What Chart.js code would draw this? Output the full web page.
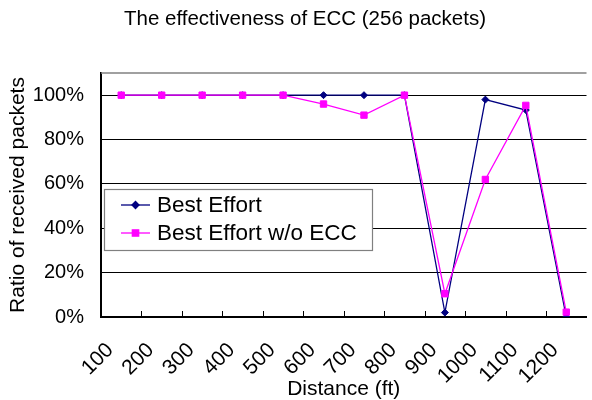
<!DOCTYPE html>
<html>
<head>
<meta charset="utf-8">
<script src="https://cdn.jsdelivr.net/npm/chart.js@4/dist/chart.umd.min.js"></script>
<style>
  html, body { margin: 0; padding: 0; background: #ffffff; }
  #wrap { position: relative; width: 592px; height: 400px; }
</style>
</head>
<body>
<div id="wrap"><canvas id="c" width="592" height="400"></canvas></div>
<script>
// Distances in feet (x categories)
const distances = ['100', '200', '300', '400', '500', '600', '700', '800', '900', '1000', '1100', '1200'];
// Percentage of the 256 packets received
const bestEffort      = [100, 100, 100, 100, 100, 100, 100, 100, 2, 98, 93.3, 0];
const bestEffortNoEcc = [100, 100, 100, 100, 100, 96, 91, 100, 10.5, 62, 95.4, 2.2];
// Labelled y ticks (percent)
const yTicks = [0, 20, 40, 60, 80, 100];

const seriesNames = ['Best Effort', 'Best Effort w/o ECC'];
const chartTitle = 'The effectiveness of ECC (256 packets)';
const xTitle = 'Distance (ft)';
const yTitle = 'Ratio of received packets';

const FONT = "'Liberation Sans', Arial, sans-serif";
const NAVY = '#000080';
const MAGENTA = '#ff00ff';

// Plot frame: grey top border and inward tick marks between categories
const framePlugin = {
  id: 'frame',
  beforeDatasetsDraw(chart) {
    const { ctx, chartArea: a, scales: { x } } = chart;
    ctx.save();
    ctx.strokeStyle = '#808080';
    ctx.lineWidth = 1.5;
    ctx.beginPath();
    ctx.moveTo(a.left, a.top);
    ctx.lineTo(a.right, a.top);
    ctx.stroke();
    ctx.strokeStyle = '#000000';
    ctx.lineWidth = 1;
    const n = distances.length;
    const w = (x.right - x.left) / n;
    ctx.beginPath();
    for (let i = 1; i < n; i++) {
      const px = Math.round(x.left + i * w) + 0.5;
      ctx.moveTo(px, a.bottom);
      ctx.lineTo(px, a.bottom - 6);
    }
    ctx.stroke();
    ctx.restore();
  }
};

// Boxed legend drawn inside the plot area
const boxLegendPlugin = {
  id: 'boxLegend',
  afterDraw(chart) {
    const { ctx, chartArea: a } = chart;
    const bx = a.left + 3, by = a.top + 116, bw = 268, bh = 61;
    ctx.save();
    ctx.fillStyle = '#ffffff';
    ctx.fillRect(bx, by, bw, bh);
    ctx.strokeStyle = '#808080';
    ctx.lineWidth = 1.2;
    ctx.strokeRect(bx + 0.5, by + 0.5, bw, bh);
    const rows = [by + 16, by + 44];
    chart.data.datasets.forEach((ds, i) => {
      const y = rows[i];
      ctx.strokeStyle = ds.borderColor;
      ctx.lineWidth = ds.borderWidth;
      ctx.beginPath();
      ctx.moveTo(bx + 17, y);
      ctx.lineTo(bx + 46, y);
      ctx.stroke();
      ctx.fillStyle = ds.pointBackgroundColor;
      ctx.strokeStyle = ds.pointBorderColor;
      Chart.helpers.drawPoint(ctx, {
        pointStyle: ds.pointStyle,
        radius: ds.pointRadius,
        rotation: 0,
        borderWidth: 1
      }, bx + 31.5, y);
      ctx.fillStyle = '#000000';
      ctx.font = '22.5px ' + FONT;
      ctx.textAlign = 'left';
      ctx.textBaseline = 'middle';
      ctx.fillText(ds.label, bx + 53, y + 1);
    });
    ctx.restore();
  }
};

// Nudge the chart title to sit centred over the plot
const titleShiftPlugin = {
  id: 'titleShift',
  afterLayout(chart) {
    if (chart.titleBlock) chart.titleBlock.left += 18;
  }
};

new Chart(document.getElementById('c'), {
  type: 'line',
  data: {
    labels: distances,
    datasets: [
      {
        label: seriesNames[0],
        data: bestEffort,
        borderColor: NAVY,
        backgroundColor: NAVY,
        pointBackgroundColor: NAVY,
        pointBorderColor: NAVY,
        borderWidth: 1.3,
        pointStyle: 'rectRot',
        pointRadius: 3.5,
        pointBorderWidth: 1,
        tension: 0,
        fill: false,
        order: 1
      },
      {
        label: seriesNames[1],
        data: bestEffortNoEcc,
        borderColor: MAGENTA,
        backgroundColor: MAGENTA,
        pointBackgroundColor: MAGENTA,
        pointBorderColor: MAGENTA,
        borderWidth: 1.3,
        pointStyle: 'rect',
        pointRadius: 4.5,
        pointBorderWidth: 1,
        tension: 0,
        fill: false,
        order: 0
      }
    ]
  },
  options: {
    responsive: false,
    animation: false,
    layout: { padding: { left: 0, right: 0, top: 0, bottom: 0 } },
    plugins: {
      legend: { display: false },
      tooltip: { enabled: false },
      title: {
        display: true,
        text: chartTitle,
        color: '#000000',
        font: { family: FONT, size: 20.5, weight: 'normal' },
        padding: { top: 7, bottom: 41.4 }
      }
    },
    scales: {
      x: {
        type: 'category',
        offset: true,
        grid: { display: true, drawOnChartArea: false, drawTicks: false, offset: true },
        border: { display: true, color: '#000000', width: 2 },
        ticks: {
          autoSkip: false,
          minRotation: 45,
          maxRotation: 45,
          padding: 21,
          labelOffset: -11,
          color: '#000000',
          font: { family: FONT, size: 21 }
        },
        title: {
          display: true,
          text: xTitle,
          color: '#000000',
          font: { family: FONT, size: 21, lineHeight: 1 },
          padding: { top: 0, bottom: 0 }
        },
        afterFit(scale) {
          scale.height = 83;
          scale.paddingLeft = 0;
          scale.paddingRight = 0;
        }
      },
      y: {
        min: 0,
        max: 110,
        grid: { color: '#000000', lineWidth: 1, drawTicks: false },
        border: { display: true, color: '#000000', width: 2 },
        ticks: {
          stepSize: 20,
          padding: 17,
          color: '#000000',
          font: { family: FONT, size: 20 },
          callback: (v) => v + '%'
        },
        afterBuildTicks(scale) {
          scale.ticks = yTicks.map(v => ({ value: v }));
        },
        title: {
          display: true,
          text: yTitle,
          color: '#000000',
          font: { family: FONT, size: 21 },
          padding: { top: 5.7, bottom: 0 }
        },
        afterFit(scale) {
          scale.width = 101;
        }
      }
    }
  },
  plugins: [framePlugin, boxLegendPlugin, titleShiftPlugin]
});
</script>
</body>
</html>
